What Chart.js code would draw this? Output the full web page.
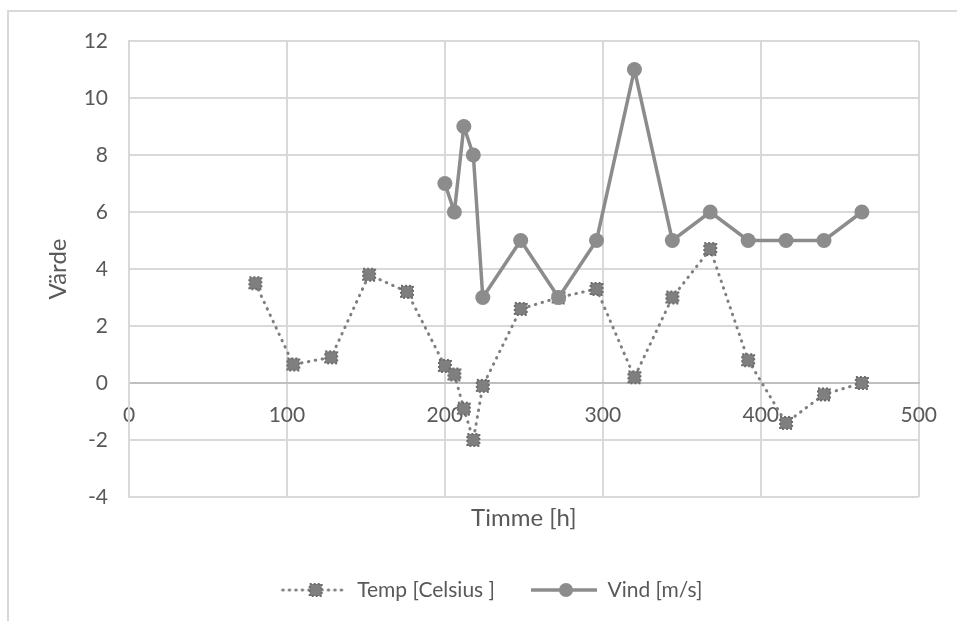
<!DOCTYPE html>
<html>
<head>
<meta charset="utf-8">
<title>Temp och vind</title>
<script src="https://cdn.jsdelivr.net/npm/chart.js@4.4.1/dist/chart.umd.min.js"></script>
<style>
  body { margin: 0; background: #fff; }
  .wrap { position: relative; width: 957px; height: 621px; overflow: hidden; }
  .frame { position: absolute; left: 7px; top: 10px; width: 960px; height: 620px;
           border-top: 2px solid #d9d9d9; border-left: 2px solid #d9d9d9; }
  #chart { position: absolute; left: 0; top: 0; }
</style>
</head>
<body>
<div class="wrap">
  <div class="frame"></div>
  <canvas id="chart" width="957" height="621"></canvas>
</div>
<script>
// setup-block
const tempHours = [80, 104, 128, 152, 176, 200, 206, 212, 218, 224, 248, 272, 296, 320, 344, 368, 392, 416, 440, 464];
const tempValues = [3.5, 0.65, 0.9, 3.8, 3.2, 0.6, 0.3, -0.9, -2.0, -0.1, 2.6, 3.0, 3.3, 0.2, 3.0, 4.7, 0.8, -1.4, -0.4, 0.0];
const vindHours = [200, 206, 212, 218, 224, 248, 272, 296, 320, 344, 368, 392, 416, 440, 464];
const vindValues = [7, 6, 9, 8, 3, 5, 3, 5, 11, 5, 6, 5, 5, 5, 6];
const seriesNames = ["Temp [Celsius ]", "Vind [m/s]"];
const xTicks = [0, 100, 200, 300, 400, 500];
const yTicks = [-4, -2, 0, 2, 4, 6, 8, 10, 12];

const textColor = "#595959";
const gridColor = "#d9d9d9";
const tempColor = "#7f7f7f";
const vindColor = "#8c8c8c";

function toPoints(xs, ys) {
  return xs.map(function (x, i) { return { x: x, y: ys[i] }; });
}

// square marker with a dotted edge
function tempMarker() {
  var c = document.createElement("canvas");
  c.width = 16; c.height = 16;
  var g = c.getContext("2d");
  g.fillStyle = tempColor;
  g.fillRect(2, 2, 12, 12);
  g.setLineDash([2, 2]);
  g.strokeStyle = "#6b6b6b";
  g.lineWidth = 2;
  g.strokeRect(2, 2, 12, 12);
  return c;
}

// legend icons: line + marker
function legendIcon(kind) {
  var c = document.createElement("canvas");
  c.width = 92; c.height = 20;
  var g = c.getContext("2d");
  g.lineCap = "round";
  if (kind === "temp") {
    g.strokeStyle = tempColor;
    g.lineWidth = 3;
    g.setLineDash([0.5, 6]);
    g.beginPath(); g.moveTo(28, 10); g.lineTo(91, 10); g.stroke();
    g.drawImage(tempMarker(), 61 - 8, 2);
  } else {
    g.strokeStyle = vindColor;
    g.lineWidth = 3.5;
    g.lineCap = "butt";
    g.beginPath(); g.moveTo(26, 10); g.lineTo(92, 10); g.stroke();
    g.fillStyle = vindColor;
    g.beginPath(); g.arc(61, 10, 7, 0, Math.PI * 2); g.fill();
  }
  return c;
}

function draw() {
  const markerImg = tempMarker();
  const icons = [legendIcon("temp"), legendIcon("vind")];

  const data = {
    datasets: [
      {
        label: seriesNames[0],
        data: toPoints(tempHours, tempValues),
        borderColor: tempColor,
        borderWidth: 3,
        borderDash: [0.5, 6.5],
        borderCapStyle: "round",
        pointStyle: markerImg,
        pointBackgroundColor: tempColor,
        order: 1,
      },
      {
        label: seriesNames[1],
        data: toPoints(vindHours, vindValues),
        borderColor: vindColor,
        borderWidth: 3.5,
        pointStyle: "circle",
        pointRadius: 7.5,
        pointBackgroundColor: vindColor,
        pointBorderColor: vindColor,
        pointBorderWidth: 0,
        order: 0,
      },
    ],
  };

  // config-block
  const config = {
    type: "line",
    data: data,
    options: {
      responsive: false,
      animation: false,
      devicePixelRatio: 1,
      layout: { padding: { top: 41, right: 0, bottom: 10.5, left: 0 } },
      elements: { line: { tension: 0, fill: false } },
      scales: {
        x: {
          type: "linear",
          position: { y: 0 },
          min: 0,
          max: 500,
          afterBuildTicks: function (s) { s.ticks = xTicks.map(function (v) { return { value: v }; }); },
          grid: { color: gridColor, lineWidth: 2, drawTicks: false },
          border: { color: "#bfbfbf", width: 2 },
          ticks: { color: textColor, padding: 20, maxRotation: 0, font: { family: "Lato", size: 21 } },
        },
        y: {
          type: "linear",
          position: "left",
          min: -4,
          max: 12,
          afterBuildTicks: function (s) { s.ticks = yTicks.map(function (v) { return { value: v }; }); },
          afterFit: function (s) { s.width = 129; },
          grid: {
            lineWidth: 2,
            drawTicks: false,
            color: function (c) { return c.tick && c.tick.value === 0 ? "#bfbfbf" : gridColor; },
          },
          border: { color: gridColor, width: 2 },
          ticks: { color: textColor, padding: 21, font: { family: "Lato", size: 21 } },
          title: {
            display: true,
            text: "Värde",
            color: textColor,
            padding: { top: 44, bottom: 0 },
            font: { family: "Lato", size: 24 },
          },
        },
        // keeps the right margin free
        yRight: {
          type: "linear",
          position: "right",
          display: true,
          grid: { display: false },
          border: { display: false },
          ticks: { display: false },
          afterFit: function (s) { s.width = 33; },
        },
      },
      plugins: {
        title: {
          display: true,
          text: "Timme [h]",
          position: "bottom",
          fullSize: false,
          weight: 500,
          color: textColor,
          padding: { top: 7, bottom: 36.7 },
          font: { family: "Lato", size: 24, weight: "normal" },
        },
        legend: {
          position: "bottom",
          labels: {
            usePointStyle: true,
            pointStyleWidth: 92,
            padding: 10,
            color: textColor,
            font: { family: "Lato", size: 21 },
            generateLabels: function (chart) {
              return seriesNames.map(function (name, i) {
                return {
                  text: name,
                  fontColor: textColor,
                  pointStyle: icons[i],
                  fillStyle: "transparent",
                  strokeStyle: "transparent",
                  lineWidth: 0,
                  hidden: false,
                  datasetIndex: i,
                };
              });
            },
          },
        },
        tooltip: { enabled: false },
      },
    },
  };

  // Render-block
  var myChart = new Chart(document.getElementById("chart"), config);
}

document.fonts.load("21px Lato").then(draw, draw);
</script>
</body>
</html>
